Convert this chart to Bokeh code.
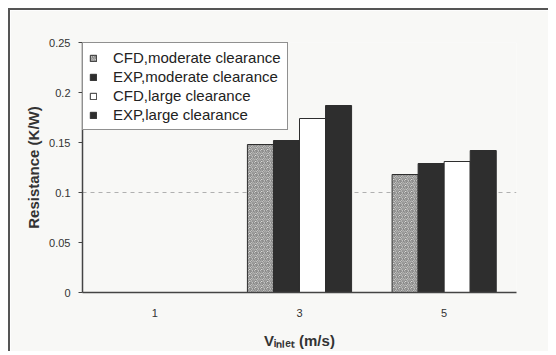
from bokeh.plotting import figure
from bokeh.models import FactorRange, FixedTicker, Range1d
from bokeh.transform import dodge
from bokeh.embed import file_html
from bokeh.resources import INLINE

# ---- data ----
categories = ["1", "3", "5"]
cfd_moderate = [0.0, 0.148, 0.118]
exp_moderate = [0.0, 0.152, 0.129]
cfd_large = [0.0, 0.174, 0.131]
exp_large = [0.0, 0.187, 0.142]
series_labels = ["CFD,moderate clearance", "EXP,moderate clearance",
                 "CFD,large clearance", "EXP,large clearance"]
y_ticks = [0.0, 0.05, 0.1, 0.15, 0.2, 0.25]
y_tick_labels = ["0", "0.05", "0.1", "0.15", "0.2", "0.25"]

FONT = "Liberation Sans"
BG = "#f8f8f6"
DARK = "#2e2e2e"

p = figure(x_range=FactorRange(*categories), y_range=Range1d(0, 0.25),
           frame_width=434, frame_height=250,
           min_border_left=72, min_border_top=32, min_border_right=32, min_border_bottom=55,
           output_backend="svg", toolbar_location=None,
           background_fill_color=BG, border_fill_color=BG)
p.styles = {"border-left": "2px solid #555", "border-top": "2px solid #555",
            "margin-left": "8px", "margin-top": "8px"}
p.outline_line_color = None

data = dict(x=categories, cfdm=cfd_moderate, expm=exp_moderate, cfdl=cfd_large, expl=exp_large)
w = 0.18
offs = [-0.27, -0.09, 0.09, 0.27]

p.vbar(x=dodge("x", offs[0], range=p.x_range), top="cfdm", width=w, source=data,
       fill_color="#f0f0ee", line_color=DARK, line_width=1,
       hatch_pattern="spiral", hatch_color="#555", hatch_scale=6, hatch_weight=1,
       legend_label=series_labels[0])
p.vbar(x=dodge("x", offs[1], range=p.x_range), top="expm", width=w, source=data,
       fill_color=DARK, line_color=DARK, legend_label=series_labels[1])
p.vbar(x=dodge("x", offs[2], range=p.x_range), top="cfdl", width=w, source=data,
       fill_color="#ffffff", line_color=DARK, line_width=1, legend_label=series_labels[2])
p.vbar(x=dodge("x", offs[3], range=p.x_range), top="expl", width=w, source=data,
       fill_color=DARK, line_color=DARK, legend_label=series_labels[3])

# grid
p.xgrid.grid_line_color = None
p.ygrid.ticker = FixedTicker(ticks=[0.1])
p.ygrid.grid_line_color = "#b0b0b0"
p.ygrid.grid_line_dash = "4 4"
p.ygrid.grid_line_width = 1

# y axis
p.yaxis.ticker = FixedTicker(ticks=y_ticks)
p.yaxis.major_label_overrides = {t: l for t, l in zip(y_ticks, y_tick_labels)}
p.yaxis.minor_tick_line_color = None
p.yaxis.major_tick_out = 4
p.yaxis.major_tick_in = 0
p.yaxis.major_label_standoff = 8
p.yaxis.axis_label = "Resistance (K/W)"
p.yaxis.axis_label_text_font = FONT
p.yaxis.axis_label_text_font_style = "bold"
p.yaxis.axis_label_text_font_size = "15px"
p.yaxis.axis_label_text_color = "#333"
p.yaxis.axis_label_standoff = 4

# x axis
p.xaxis.major_label_standoff = 10
p.xaxis.axis_label = "Vᵢₙₗₑₜ (m/s)"
p.xaxis.axis_label_text_font = FONT
p.xaxis.axis_label_text_font_style = "bold"
p.xaxis.axis_label_text_font_size = "15px"
p.xaxis.axis_label_text_color = "#333"
p.xaxis.axis_label_standoff = 12

for ax in (p.xaxis[0], p.yaxis[0]):
    ax.axis_line_color = "#444"
    ax.axis_line_width = 1.5
    ax.major_label_text_font = FONT
    ax.major_label_text_font_size = "11px"
    ax.major_label_text_color = "#333"
p.yaxis.major_tick_line_color = "#444"
p.xaxis.major_tick_line_color = None

# legend
lg = p.legend[0]
lg.location = "top_left"
lg.margin = 0
lg.padding = 6
lg.spacing = 2
lg.label_height = 16
lg.glyph_width = 8
lg.glyph_height = 8
lg.label_standoff = 16
lg.label_text_font = FONT
lg.label_text_font_size = "15px"
lg.label_text_color = "#222"
lg.border_line_color = "#222"
lg.border_line_width = 1
lg.background_fill_color = "#ffffff"
lg.background_fill_alpha = 1.0

open("out.html", "w").write(file_html(p, INLINE))
